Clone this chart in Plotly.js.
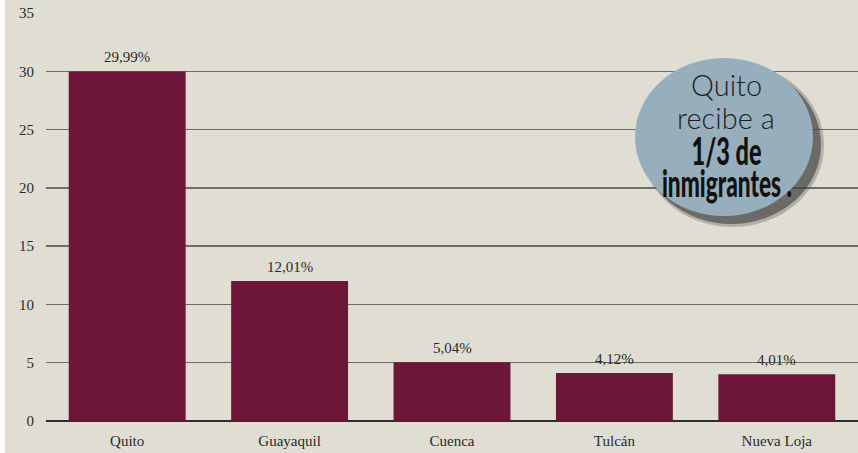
<!DOCTYPE html>
<html>
<head>
<meta charset="utf-8">
<script src="https://cdn.plot.ly/plotly-3.0.1.min.js"></script>
<style>
html,body{margin:0;padding:0;background:#E0DED3;}
#chart{width:858px;height:453px;}
</style>
</head>
<body>
<div id="chart"></div>
<script>
const categories = ["Quito", "Guayaquil", "Cuenca", "Tulcán", "Nueva Loja"];
const values = [29.99, 12.01, 5.04, 4.12, 4.01];
const valueLabels = ["29,99%", "12,01%", "5,04%", "4,12%", "4,01%"];
const yTicks = [0, 5, 10, 15, 20, 25, 30, 35];
const calloutLines = ["Quito", "recibe a", "1/3 de", "inmigrantes ."];

const W = 858, H = 453;
const M = {l: 46, r: 0, t: 13, b: 32};
const PW = W - M.l - M.r, PH = H - M.t - M.b;
const px = x => (x - M.l) / PW;
const py = y => (H - M.b - y) / PH;

const serif = "Liberation Serif, Times New Roman, serif";

const trace = {
  type: "bar",
  x: categories,
  y: values,
  marker: {color: "#6E1639"},
  hoverinfo: "skip"
};

const annotations = categories.map((c, i) => ({
  x: c, y: values[i], xref: "x", yref: "y",
  text: valueLabels[i], showarrow: false,
  yanchor: "bottom", yshift: 4,
  font: {family: serif, size: 15, color: "#2a2a2a"}
}));

// callout text
const cx = 726;
const lineY = [84, 118, 150, 182];
const lineTargetW = [null, null, 70, 130];
const lineStyle = [
  {family: "Lato, Noto Sans, sans-serif", size: 29, color: "#1e1e1e", weight: 300},
  {family: "Lato, Noto Sans, sans-serif", size: 29, color: "#1e1e1e", weight: 300},
  {family: "Lato, Liberation Sans, sans-serif", size: 38, color: "#111", weight: 900},
  {family: "Lato, Liberation Sans, sans-serif", size: 38, color: "#111", weight: 900}
];
calloutLines.forEach((t, i) => {
  annotations.push({
    xref: "paper", yref: "paper", x: px(cx + (i === 3 ? 1 : 0)), y: py(lineY[i]),
    text: t, showarrow: false,
    xanchor: "center", yanchor: "middle",
    font: lineStyle[i]
  });
});

const shapes = [
  {type: "rect", xref: "paper", yref: "paper", x0: px(0), x1: px(5), y0: py(H), y1: py(0),
   fillcolor: "#ffffff", line: {width: 0}, layer: "below"},
  {type: "circle", xref: "paper", yref: "paper", x0: px(641), x1: px(824), y0: py(227), y1: py(63),
   fillcolor: "rgba(70,70,70,0.3)", line: {width: 0}},
  {type: "circle", xref: "paper", yref: "paper", x0: px(642), x1: px(821), y0: py(224), y1: py(65),
   fillcolor: "rgba(60,60,60,0.6)", line: {width: 0}},
  {type: "circle", xref: "paper", yref: "paper", x0: px(635), x1: px(813), y0: py(216), y1: py(58),
   fillcolor: "#97AFBD", line: {width: 0}}
];

const layout = {
  width: W, height: H,
  margin: M,
  paper_bgcolor: "#E0DED3",
  plot_bgcolor: "#E0DED3",
  bargap: 0.28,
  showlegend: false,
  xaxis: {
    showgrid: false, zeroline: false, showline: false,
    ticks: "outside", ticklen: 6, tickcolor: "rgba(0,0,0,0)",
    tickfont: {family: serif, size: 15, color: "#2a2a2a"},
    fixedrange: true
  },
  yaxis: {
    range: [0, 35], tickvals: yTicks, ticktext: yTicks.map(String),
    showgrid: true, gridcolor: "#6f6d68", gridwidth: 1.3,
    zeroline: true, zerolinecolor: "#2e2e2e", zerolinewidth: 1.6,
    showline: false, ticks: "outside", ticklen: 8, tickcolor: "rgba(0,0,0,0)",
    tickfont: {family: serif, size: 15, color: "#2a2a2a"},
    fixedrange: true
  },
  annotations: annotations,
  shapes: shapes
};

Plotly.newPlot("chart", [trace], layout, {displayModeBar: false, staticPlot: true}).then(() => {
  // condense the bold callout lines to mimic a compressed display face
  document.querySelectorAll("#chart text.annotation-text").forEach(el => {
    const idx = calloutLines.indexOf(el.textContent);
    if (idx < 0 || !lineTargetW[idx]) return;
    const bb = el.getBBox();
    const s = lineTargetW[idx] / bb.width;
    const c = bb.x + bb.width / 2, m = bb.y + bb.height / 2;
    el.setAttribute("transform", `translate(${c},${m}) scale(${s},1) translate(${-c},${-m})`);
  });
});
</script>
</body>
</html>
